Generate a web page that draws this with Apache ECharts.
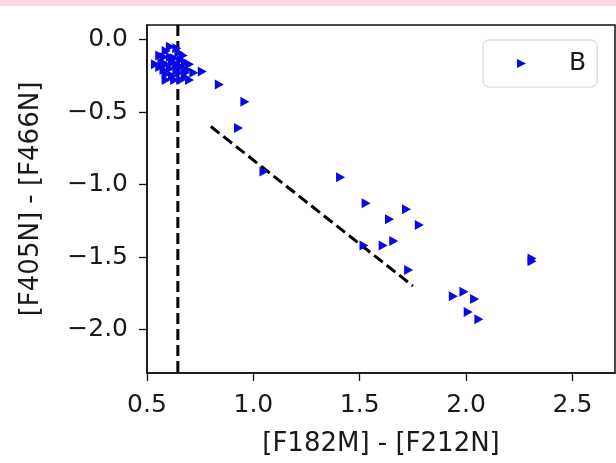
<!DOCTYPE html>
<html>
<head>
<meta charset="utf-8">
<script src="https://cdn.jsdelivr.net/npm/echarts@6/dist/echarts.min.js"></script>
<style>
html,body{margin:0;padding:0;background:#fff;}
#chart{width:616px;height:463px;}
</style>
</head>
<body>
<div id="chart"></div>
<script>
// ---- data ----
const seriesName = 'B';
const bX = [0.61,0.64,0.59,0.65,0.67,0.56,0.58,0.61,0.63,0.66,0.54,0.57,0.59,0.62,0.64,0.68,0.70,0.56,0.58,0.61,0.64,0.66,0.69,0.72,0.59,0.62,0.65,0.68,0.59,0.63,0.66,0.70,0.68,
            0.76,0.84,0.96,0.93,1.05,1.41,1.53,1.72,1.64,1.78,1.66,1.61,1.52,1.73,1.94,1.99,2.04,2.01,2.06,2.31,2.31];
const bY = [-0.05,-0.06,-0.08,-0.09,-0.11,-0.11,-0.12,-0.12,-0.13,-0.14,-0.17,-0.16,-0.17,-0.16,-0.17,-0.16,-0.17,-0.19,-0.21,-0.20,-0.21,-0.19,-0.21,-0.23,-0.24,-0.25,-0.23,-0.26,-0.28,-0.28,-0.28,-0.28,-0.23,
            -0.22,-0.31,-0.43,-0.61,-0.91,-0.95,-1.13,-1.17,-1.24,-1.28,-1.39,-1.42,-1.42,-1.59,-1.77,-1.74,-1.79,-1.88,-1.93,-1.51,-1.53];
const vLineX = [0.645, 0.645];
const vLineY = [0.1, -2.3];
const fitX = [0.80, 1.75];
const fitY = [-0.60, -1.70];
const xTicks = [0.5, 1.0, 1.5, 2.0, 2.5];
const yTicks = [0.0, -0.5, -1.0, -1.5, -2.0];
const xRange = [0.5, 2.7];
const yRange = [-2.3, 0.1];
const xName = '[F182M] - [F212N]';
const yName = '[F405N] - [F466N]';

// ---- chart ----
const FONT = 'DejaVu Sans';
const TXT = '#1a1a1a';
const triangle = 'path://M0,0 L10,5 L0,10 Z';
const fmt = v => v.toFixed(1).replace('-', '\u2212');
const zip = (a, b) => a.map((v, i) => [v, b[i]]);

const chart = echarts.init(document.getElementById('chart'), null, {renderer: 'canvas'});
chart.setOption({
  animation: false,
  backgroundColor: '#ffffff',
  graphic: [{
    type: 'rect', left: 0, top: 0, z: 100,
    shape: {width: 616, height: 6},
    style: {fill: '#fdd8e4'}
  }],
  grid: {left: 147, right: 1, top: 25, bottom: 90, show: true, borderColor: '#111', borderWidth: 1.5, backgroundColor: 'transparent'},
  legend: {
    data: [seriesName],
    left: 483, top: 40,
    padding: [11, 11, 11, 34],
    backgroundColor: '#fff',
    borderColor: '#d0d0d0', borderWidth: 1, borderRadius: 6,
    itemWidth: 9, itemHeight: 10,
    icon: triangle,
    textStyle: {fontFamily: FONT, fontSize: 25, color: TXT, padding: [0, 0, 0, 38]}
  },
  xAxis: {
    type: 'value', min: xRange[0], max: xRange[1],
    name: xName, nameLocation: 'middle', nameGap: 58,
    nameTextStyle: {fontFamily: FONT, fontSize: 26, color: TXT},
    axisLine: {show: true, onZero: false, lineStyle: {color: '#111', width: 1.5}},
    axisTick: {show: true, length: 8, customValues: xTicks, lineStyle: {color: '#111', width: 1.3}},
    axisLabel: {customValues: xTicks, formatter: fmt, fontFamily: FONT, fontSize: 25, color: TXT, margin: 20},
    splitLine: {show: false}
  },
  yAxis: {
    type: 'value', min: yRange[0], max: yRange[1],
    name: yName, nameLocation: 'middle', nameGap: 103, nameRotate: 90,
    nameTextStyle: {fontFamily: FONT, fontSize: 26, color: TXT},
    axisLine: {show: true, onZero: false, lineStyle: {color: '#111', width: 1.5}},
    axisTick: {show: true, length: 8, customValues: yTicks, lineStyle: {color: '#111', width: 1.3}},
    axisLabel: {customValues: yTicks, formatter: fmt, fontFamily: FONT, fontSize: 25, color: TXT, margin: 19},
    splitLine: {show: false}
  },
  series: [
    {
      name: 'vline', type: 'line', data: zip(vLineX, vLineY), symbol: 'none', silent: true,
      lineStyle: {color: '#000', width: 3, type: [11, 5]}, z: 3
    },
    {
      name: 'fit', type: 'line', data: zip(fitX, fitY), symbol: 'none', silent: true,
      lineStyle: {color: '#000', width: 3, type: [11, 5]}, z: 3
    },
    {
      name: seriesName, type: 'scatter', data: zip(bX, bY),
      symbol: triangle, symbolSize: [9, 10],
      itemStyle: {color: '#0808e8', opacity: 1}, z: 4
    }
  ]
});
</script>
</body>
</html>
